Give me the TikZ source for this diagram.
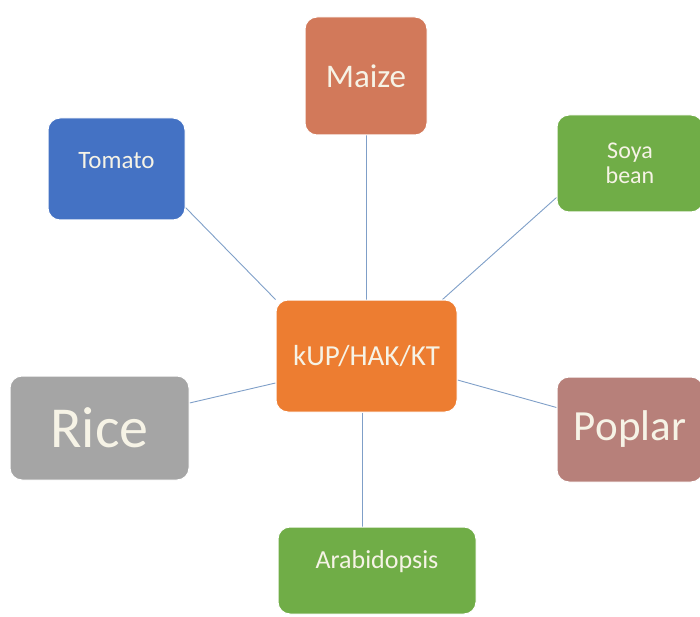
\documentclass[tikz,border=0pt]{standalone}
\usepackage{fontspec}
\setmainfont{Carlito}
\usepackage{tikz}
\usetikzlibrary{positioning, backgrounds}
\usepackage{xcolor}

\definecolor{maizecol}{HTML}{D2795A}
\definecolor{tomatocol}{HTML}{4472C4}
\definecolor{soyacol}{HTML}{70AD47}
\definecolor{hubcol}{HTML}{ED7D31}
\definecolor{ricecol}{HTML}{A5A5A5}
\definecolor{poplarcol}{HTML}{B7807A}
\definecolor{linkcol}{HTML}{7F9FC8}
\definecolor{boxtext}{HTML}{F6F3E6}

\tikzset{
  cropbox/.style={rounded corners=12pt, draw=white, line width=1pt,
    text=boxtext, align=center, inner sep=0pt},
  link/.style={draw=linkcol, line width=0.9pt},
}

\begin{document}
\begin{tikzpicture}[x=1pt, y=-1pt]
			\useasboundingbox (0,0) rectangle (700,617);
			
			% hub
			\node[cropbox, fill=hubcol, minimum width=181pt, minimum height=112pt,
				font=\fontsize{29}{34}\selectfont] (hub) at (366.5,356) {kUP/HAK/KT};
			
			% upper row
			\node[cropbox, fill=maizecol, minimum width=122pt, minimum height=118pt,
				font=\fontsize{33}{38}\selectfont] (maize) at (366,76) {Maize};
			\node[cropbox, fill=tomatocol, minimum width=137pt, minimum height=102pt,
				font=\fontsize{25}{30}\selectfont, text depth=18pt] (tomato) at (116.5,169) {Tomato};
			\node[cropbox, fill=soyacol, minimum width=146pt, minimum height=97pt,
				font=\fontsize{24}{25}\selectfont] (soya) at (630,163.5) {Soya\\bean};
			
			% middle row
			\node[cropbox, fill=ricecol, minimum width=179pt, minimum height=104pt,
				font=\fontsize{58}{64}\selectfont] (rice) at (99.5,428) {Rice};
			\node[cropbox, fill=poplarcol, minimum width=146pt, minimum height=105pt,
				font=\fontsize{43}{48}\selectfont] (poplar) at (630,429.5) {Poplar};
			
			% bottom
			\node[cropbox, fill=soyacol, minimum width=198pt, minimum height=87pt,
				font=\fontsize{26}{30}\selectfont, text depth=22pt] (arab) at (377,570.5) {Arabidopsis};
			
			% links
			\begin{scope}[on background layer]
				\draw[link] (maize.south) -- (hub.north -| maize.south);
				\draw[link] ([yshift=13pt]tomato.south east) -- (hub.north west);
				\draw[link] ([yshift=15pt]soya.south west) -- ([xshift=-15pt]hub.north east);
				\draw[link] ([yshift=25pt]rice.east) -- ([yshift=-27pt]hub.west);
				\draw[link] ([yshift=-24pt]hub.east) -- ([yshift=22pt]poplar.west);
				\draw[link] ([xshift=-4pt]hub.south) -- ([xshift=-4pt]hub.south |- arab.north);
			\end{scope}
		\end{tikzpicture}
\end{document}
